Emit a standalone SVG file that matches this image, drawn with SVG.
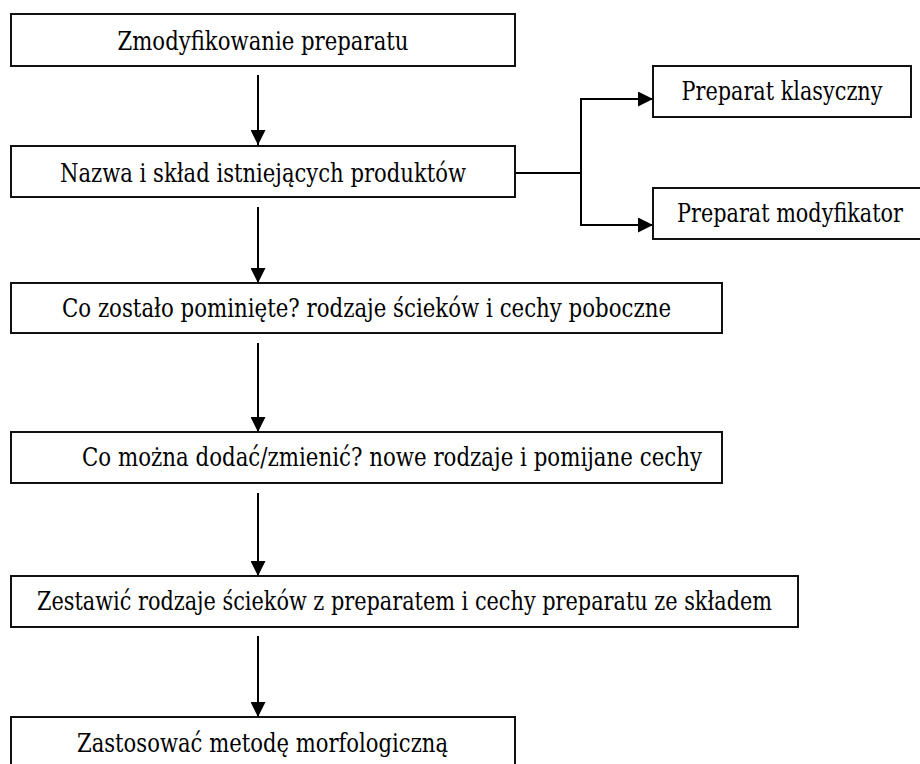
<svg xmlns="http://www.w3.org/2000/svg" width="920" height="764" viewBox="0 0 920 764">
<style>
  .box { fill: #ffffff; stroke: #111111; stroke-width: 2; }
  .lbl { font-family: "DejaVu Serif", "Liberation Serif", serif; font-size: 26px; fill: #000000; }
  .c { text-anchor: middle; }
  .conn { fill: none; stroke: #000000; stroke-width: 2; }
</style>
<defs>
  <marker id="arr" markerUnits="userSpaceOnUse" markerWidth="15" markerHeight="15" refX="15" refY="7.5" orient="auto">
    <path d="M0,0 L15,7.5 L0,15 z" fill="#000000"/>
  </marker>
</defs>
<rect width="920" height="764" fill="#ffffff"/>
<g id="connectors">
  <line class="conn" x1="258" y1="75" x2="258" y2="145" marker-end="url(#arr)"/>
  <line class="conn" x1="258" y1="207" x2="258" y2="283" marker-end="url(#arr)"/>
  <line class="conn" x1="258" y1="343" x2="258" y2="432" marker-end="url(#arr)"/>
  <line class="conn" x1="258" y1="493" x2="258" y2="576" marker-end="url(#arr)"/>
  <line class="conn" x1="258" y1="636" x2="258" y2="717" marker-end="url(#arr)"/>
  <polyline class="conn" points="515,173 581,173"/>
  <polyline class="conn" points="581,173 581,99 653,99" marker-end="url(#arr)"/>
  <polyline class="conn" points="581,173 581,225 653,225" marker-end="url(#arr)"/>
</g>
<g id="n1">
  <rect class="box" x="11" y="14" width="504" height="52"/>
  <text class="lbl c" x="263" y="50" textLength="291" lengthAdjust="spacingAndGlyphs">Zmodyfikowanie preparatu</text>
</g>
<g id="n2">
  <rect class="box" x="11" y="146" width="504" height="51"/>
  <text class="lbl c" x="263" y="182" textLength="406" lengthAdjust="spacingAndGlyphs">Nazwa i skład istniejących produktów</text>
</g>
<g id="n_klasyczny">
  <rect class="box" x="653" y="66" width="258" height="51"/>
  <text class="lbl c" x="782" y="100" textLength="201" lengthAdjust="spacingAndGlyphs">Preparat klasyczny</text>
</g>
<g id="n_modyfikator">
  <rect class="box" x="653" y="188" width="274" height="51"/>
  <text class="lbl c" x="790" y="222" textLength="226" lengthAdjust="spacingAndGlyphs">Preparat modyfikator</text>
</g>
<g id="n3">
  <rect class="box" x="11" y="283" width="711" height="50"/>
  <text class="lbl c" x="366.5" y="317" textLength="609" lengthAdjust="spacingAndGlyphs">Co zostało pominięte? rodzaje ścieków i cechy poboczne</text>
</g>
<g id="n4">
  <rect class="box" x="11" y="432" width="711" height="51"/>
  <text class="lbl" x="82" y="466" textLength="620" lengthAdjust="spacingAndGlyphs">Co można dodać/zmienić? nowe rodzaje i pomijane cechy</text>
</g>
<g id="n5">
  <rect class="box" x="11" y="576" width="787" height="51"/>
  <text class="lbl c" x="404.5" y="610" textLength="735" lengthAdjust="spacingAndGlyphs">Zestawić rodzaje ścieków z preparatem i cechy preparatu ze składem</text>
</g>
<g id="n6">
  <rect class="box" x="11" y="717" width="504" height="60"/>
  <text class="lbl c" x="262.5" y="752" textLength="371" lengthAdjust="spacingAndGlyphs">Zastosować metodę morfologiczną</text>
</g>
</svg>
